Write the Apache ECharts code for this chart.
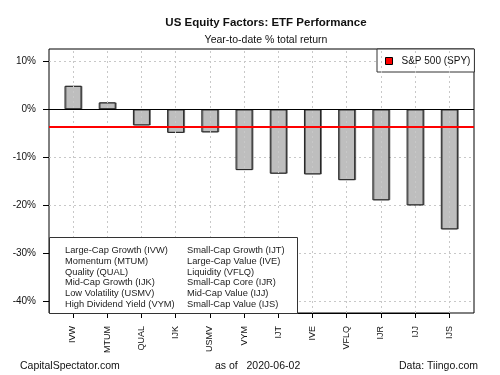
<!DOCTYPE html>
<html>
<head>
<meta charset="utf-8">
<script src="https://cdn.jsdelivr.net/npm/echarts@6/dist/echarts.min.js"></script>
<style>
  html, body { margin: 0; padding: 0; background: #fff; }
  #chart { width: 500px; height: 375px; }
</style>
</head>
<body>
<div id="chart"></div>
<script>
const tickers = ['IVW', 'MTUM', 'QUAL', 'IJK', 'USMV', 'VYM', 'IJT', 'IVE', 'VFLQ', 'IJR', 'IJJ', 'IJS'];
const ytdReturns = [4.9, 1.45, -3.35, -4.9, -4.8, -12.65, -13.4, -13.55, -14.75, -18.95, -20.0, -25.0];
const spyReturn = -3.55;
const keyLeft = ['Large-Cap Growth (IVW)', 'Momentum (MTUM)', 'Quality (QUAL)',
                 'Mid-Cap Growth (IJK)', 'Low Volatility (USMV)', 'High Dividend Yield (VYM)'];
const keyRight = ['Small-Cap Growth (IJT)', 'Large-Cap Value (IVE)', 'Liquidity (VFLQ)',
                  'Small-Cap Core (IJR)', 'Mid-Cap Value (IJJ)', 'Small-Cap Value (IJS)'];
const titleText = 'US Equity Factors: ETF Performance';
const subtitleText = 'Year-to-date % total return';
const footLeft = 'CapitalSpectator.com';
const footMid = 'as of   2020-06-02';
const footRight = 'Data: Tiingo.com';

const FONT = '"Liberation Sans", Arial, sans-serif';
const Y_MIN = -42.4, Y_MAX = 12.56;

const chart = echarts.init(document.getElementById('chart'));

const option = {
    animation: false,
    textStyle: { fontFamily: FONT },
    title: [
        { text: titleText, left: 261, top: 12, textAlign: 'center',
          textStyle: { fontFamily: FONT, fontSize: 11.5, fontWeight: 'bold', color: '#111' } },
        { text: subtitleText, left: 261, top: 30, textAlign: 'center',
          textStyle: { fontFamily: FONT, fontSize: 10.5, fontWeight: 'normal', color: '#111' } }
    ],
    legend: {
        left: 377, top: 49,
        padding: [7, 4, 6, 8],
        backgroundColor: '#fff',
        borderColor: '#333', borderWidth: 1,
        itemWidth: 7, itemHeight: 7,
        textStyle: { fontFamily: FONT, fontSize: 10, color: '#111', padding: [0, 0, 0, 4] },
        data: [{ name: 'S&P 500 (SPY)', icon: 'rect',
                 itemStyle: { color: '#ff0000', borderColor: '#000', borderWidth: 1 } }]
    },
    grid: [
        // bars: category centres at the R bar positions
        { left: 73, right: 50.7, top: 49, bottom: 62 },
        // outer plot frame
        { left: 49, right: 26, top: 49, bottom: 62, show: true, borderColor: '#000', borderWidth: 1, backgroundColor: 'transparent' }
    ],
    xAxis: [
        {
            gridIndex: 0, type: 'category', data: tickers, boundaryGap: false,
            position: 'bottom',
            axisLine: { show: true, onZero: false, lineStyle: { color: '#000', width: 1 } },
            axisTick: { show: true, inside: false, length: 5, lineStyle: { color: '#000', width: 1 } },
            axisLabel: { rotate: 90, fontSize: 9, color: '#111', margin: 13, fontFamily: FONT },
            splitLine: { show: false }
        },
        { gridIndex: 1, type: 'value', min: 0, max: 1, show: false }
    ],
    yAxis: [
        { gridIndex: 0, type: 'value', min: Y_MIN, max: Y_MAX,
          axisLine: { show: false }, axisTick: { show: false }, axisLabel: { show: false },
          splitLine: { show: false } },
        {
            gridIndex: 1, type: 'value', min: Y_MIN, max: Y_MAX,
            axisLine: { show: false },
            axisTick: { show: true, length: 6, lineStyle: { color: '#000' } },
            axisLabel: {
                fontSize: 10, color: '#111', margin: 13, fontFamily: FONT,
                showMinLabel: false, showMaxLabel: false,
                formatter: v => (Math.abs(v % 10) < 1e-6 ? v + '%' : '')
            },
            splitLine: { show: true, showMinLine: false, showMaxLine: false,
                         lineStyle: { type: [2, 3], color: '#c8c8c8' } }
        }
    ],
    series: [
        {
            // vertical dotted grid lines at each ticker
            type: 'line', xAxisIndex: 0, yAxisIndex: 0, data: [], z: 1,
            markLine: {
                silent: true, symbol: 'none', label: { show: false },
                lineStyle: { type: [2, 3], color: '#c8c8c8', width: 1 },
                data: tickers.map(t => ({ xAxis: t }))
            }
        },
        {
            type: 'bar', xAxisIndex: 0, yAxisIndex: 0,
            data: ytdReturns,
            barWidth: 17,
            itemStyle: {
                color: '#bebebe', borderColor: '#222', borderWidth: 1,
                shadowColor: 'rgba(0,0,0,0.45)', shadowOffsetX: 1, shadowOffsetY: 0, shadowBlur: 0
            },
            z: 3
        },
        {
            name: 'S&P 500 (SPY)', type: 'line', xAxisIndex: 1, yAxisIndex: 1,
            data: [], z: 5,
            markLine: {
                silent: true, symbol: 'none', label: { show: false },
                data: [
                    { yAxis: 0, lineStyle: { color: '#000', width: 1, type: 'solid' } },
                    { yAxis: spyReturn, lineStyle: { color: '#ff0000', width: 2, type: 'solid' } }
                ]
            }
        }
    ],
    graphic: [
        { type: 'rect', left: 49, top: 237, z: 10,
          shape: { width: 248, height: 76 },
          style: { fill: '#fff', stroke: '#333', lineWidth: 1 } },
        { type: 'text', left: 65, top: 245, z: 11,
          style: { text: keyLeft.join('\n'), font: '9.3px ' + FONT, lineHeight: 10.8, fill: '#222' } },
        { type: 'text', left: 187, top: 245, z: 11,
          style: { text: keyRight.join('\n'), font: '9.3px ' + FONT, lineHeight: 10.8, fill: '#222' } },
        { type: 'text', left: 20, top: 361,
          style: { text: footLeft, font: '10.5px ' + FONT, fill: '#111' } },
        { type: 'text', left: 215, top: 361,
          style: { text: footMid, font: '10.5px ' + FONT, fill: '#111' } },
        { type: 'text', right: 22, top: 361,
          style: { text: footRight, font: '10.5px ' + FONT, fill: '#111' } }
    ]
};

chart.setOption(option);
</script>
</body>
</html>
